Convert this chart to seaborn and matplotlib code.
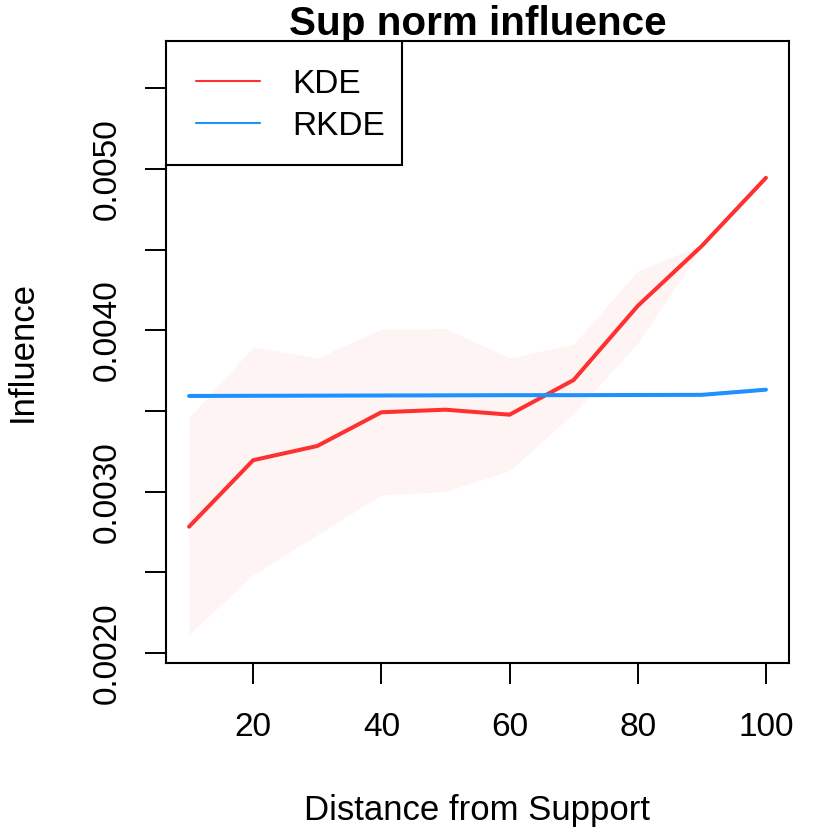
import matplotlib
matplotlib.use("Agg")
import matplotlib.pyplot as plt
from matplotlib.patches import Rectangle
import seaborn as sns
import pandas as pd

# distance from support
distance = [10, 20, 30, 40, 50, 60, 70, 80, 90, 100]

# mean sup-norm influence
kde_mean = [0.002783, 0.003195, 0.003283, 0.003492, 0.003508,
            0.003477, 0.003692, 0.004151, 0.004523, 0.004945]
rkde_mean = [0.003593, 0.003594, 0.003595, 0.003596, 0.003597,
             0.003598, 0.003598, 0.003599, 0.003600, 0.003632]

# band around the KDE curve
kde_upper = [0.003459, 0.003897, 0.003829, 0.004007, 0.004011,
             0.003829, 0.003914, 0.004368, 0.004530, 0.004950]
kde_lower = [0.002116, 0.002484, 0.002732, 0.002980, 0.003000,
             0.003130, 0.003486, 0.003920, 0.004516, 0.004940]

yticks = [0.0020, 0.0025, 0.0030, 0.0035, 0.0040, 0.0045, 0.0050, 0.0055]
ytick_labels = ["0.0020", "", "0.0030", "", "0.0040", "", "0.0050", ""]
xticks = [20, 40, 60, 80, 100]

df = pd.DataFrame({"distance": distance, "KDE": kde_mean, "RKDE": rkde_mean})

sns.set_style("ticks")
plt.rcParams["font.family"] = ["Liberation Sans", "DejaVu Sans"]
plt.rcParams["text.color"] = "black"
plt.rcParams["axes.labelcolor"] = "black"
plt.rcParams["xtick.color"] = "black"
plt.rcParams["ytick.color"] = "black"

red = "#FF3030"
blue = "#1E90FF"

fig = plt.figure(figsize=(8.3, 8.3), dpi=100)
ax = fig.add_axes([166 / 830, 1 - 663 / 830, 623 / 830, 622 / 830])

ax.fill_between(distance, kde_lower, kde_upper, color=red, alpha=0.05, linewidth=0)
sns.lineplot(data=df, x="distance", y="KDE", ax=ax, color=red, linewidth=2.9, label="KDE")
sns.lineplot(data=df, x="distance", y="RKDE", ax=ax, color=blue, linewidth=2.9, label="RKDE")

ax.set_xlim(6.4, 103.6)
ax.set_ylim(0.001938, 0.005793)
ax.set_xticks(xticks)
ax.set_yticks(yticks)
ax.set_yticklabels(ytick_labels)

for s in ax.spines.values():
    s.set_visible(True)
    s.set_linewidth(1.5)
    s.set_color("black")

ax.tick_params(axis="both", length=15, width=1.4, labelsize=24, color="black", labelcolor="black")
ax.tick_params(axis="x", pad=20)
ax.tick_params(axis="y", pad=16, labelrotation=90)
for lab in ax.get_yticklabels():
    lab.set_va("center")

ax.set_title("Sup norm influence", fontsize=29.1, fontweight="bold", pad=0, y=1 + 6 / 622)
ax.title.set_va("baseline")

ax.set_xlabel("Distance from Support", fontsize=25)
ax.xaxis.label.set_va("baseline")
ax.xaxis.set_label_coords(0.5, -(820 - 663) / 622)
ax.set_ylabel("Influence", fontsize=25)
ax.yaxis.label.set_va("baseline")
ax.yaxis.set_label_coords((32 - 166) / 623, 0.5)

# legend box drawn like R's, entries placed inside it
box = Rectangle((0, 1 - 124 / 622), 236 / 623, 124 / 622, transform=ax.transAxes,
                facecolor="white", edgecolor="black", linewidth=1.5, zorder=5)
ax.add_patch(box)
leg = ax.legend(loc="upper left", bbox_to_anchor=(30 / 623, 1 - 28 / 622),
                borderaxespad=0, borderpad=0, frameon=False,
                fontsize=24, handlelength=1.92, handletextpad=0.96,
                labelspacing=0.33)
leg.set_zorder(6)
for h in leg.get_lines():
    h.set_linewidth(1.5)

fig.savefig("out.png", dpi=100)
